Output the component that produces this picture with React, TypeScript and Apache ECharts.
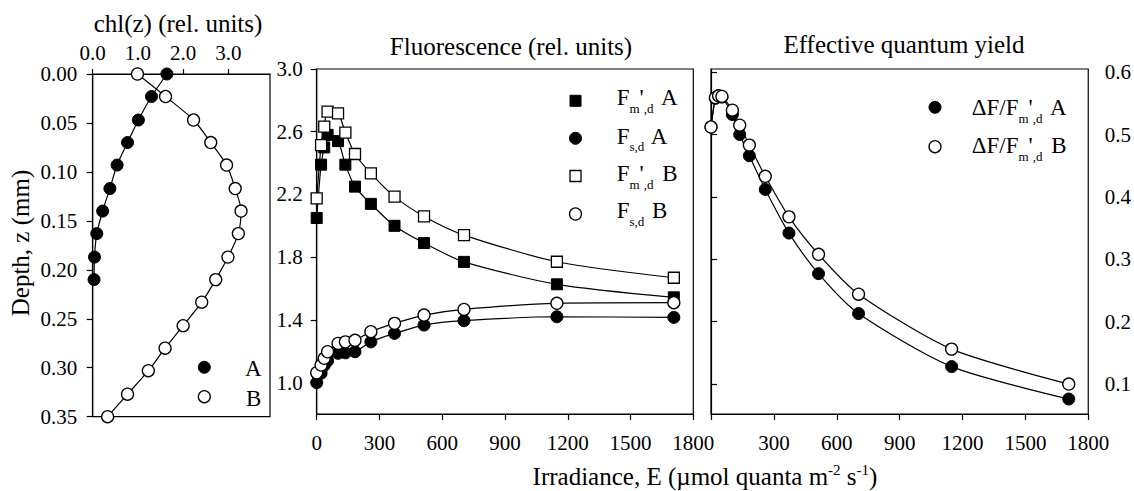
import React, { useEffect, useRef } from "react";
import * as echarts from "echarts";

// ---------- data ----------
const depth = [0, 0.023, 0.047, 0.07, 0.093, 0.117, 0.14, 0.163, 0.187, 0.21, 0.233, 0.257, 0.28, 0.303, 0.327, 0.35];
const chlA = [1.64, 1.3, 1.01, 0.77, 0.54, 0.38, 0.22, 0.09, 0.04, 0.03];
const chlB = [0.99, 1.61, 2.23, 2.61, 2.96, 3.15, 3.28, 3.22, 2.99, 2.72, 2.41, 2.0, 1.6, 1.23, 0.77, 0.33];

const irradiance = [0, 21, 36, 52, 102, 137, 183, 259, 372, 513, 704, 1148, 1707];
const fmA = [2.05, 2.39, 2.5, 2.58, 2.54, 2.39, 2.25, 2.14, 2.0, 1.89, 1.77, 1.627, 1.544];
const fsA = [1.0, 1.06, 1.11, 1.14, 1.187, 1.19, 1.197, 1.26, 1.314, 1.367, 1.395, 1.42, 1.416];
const fmB = [2.175, 2.515, 2.632, 2.728, 2.717, 2.594, 2.458, 2.335, 2.186, 2.06, 1.941, 1.771, 1.669];
const fsB = [1.063, 1.112, 1.155, 1.197, 1.25, 1.26, 1.27, 1.325, 1.378, 1.431, 1.467, 1.506, 1.51];
const yieldA = [0.512, 0.558, 0.562, 0.56, 0.532, 0.5, 0.466, 0.412, 0.342, 0.277, 0.213, 0.128, 0.076];
const yieldB = [0.512, 0.559, 0.562, 0.561, 0.539, 0.515, 0.483, 0.433, 0.368, 0.308, 0.244, 0.156, 0.1];

const chlTicks = [0, 1, 2, 3];
const fluorTicks = [1.0, 1.4, 1.8, 2.2, 2.6, 3.0];
const yieldTicks = [0.1, 0.2, 0.3, 0.4, 0.5, 0.6];
const eTicks = [0, 300, 600, 900, 1200, 1500, 1800];
const eTicksRight = [300, 600, 900, 1200, 1500, 1800];

const FONT = '"Liberation Serif", "Times New Roman", Times, serif';
const AXIS_FONT = "Liberation Serif";
const TICK_FS = 21;

export default function App() {
  const ref = useRef<HTMLDivElement>(null);

  useEffect(() => {
    const el = ref.current!;
    const chart = echarts.init(el, undefined, { renderer: "svg" });

    const canvas = document.createElement("canvas");
    const ctx = canvas.getContext("2d")!;
    const measure = (t: string, size: number) => {
      ctx.font = `${size}px ${FONT}`;
      return ctx.measureText(t).width;
    };
    const txt = (t: string, x: number, base: number, size: number, align = "left", extra: any = {}) => ({
      type: "text",
      x,
      y: base - 0.3375 * size,
      silent: true,
      style: {
        text: t,
        font: `${size}px ${FONT}`,
        fill: "#000",
        textAlign: align,
        textVerticalAlign: "middle",
      },
      ...extra,
    });
    type Part = [string, number, number, number?];
    const seq = (x0: number, base: number, parts: Part[]) => {
      let x = x0;
      const out: any[] = [];
      for (const [t, size, dy, dx = 0] of parts) {
        x += dx;
        out.push(txt(t, x, base + dy, size));
        x += measure(t, size);
      }
      return out;
    };
    const seqWidth = (parts: Part[]) =>
      parts.reduce((s, [t, size, , dx = 0]) => s + (dx || 0) + measure(t, size), 0);

    const blackCircle = (cx: number, cy: number) => ({
      type: "circle", silent: true, shape: { cx, cy, r: 6 }, style: { fill: "#000", stroke: "#000", lineWidth: 1 },
    });
    const whiteCircle = (cx: number, cy: number) => ({
      type: "circle", silent: true, shape: { cx, cy, r: 6 }, style: { fill: "#fff", stroke: "#000", lineWidth: 1.3 },
    });
    const blackSquare = (cx: number, cy: number) => ({
      type: "rect", silent: true, shape: { x: cx - 5.5, y: cy - 5.5, width: 11, height: 11 }, style: { fill: "#000", stroke: "#000", lineWidth: 1 },
    });
    const whiteSquare = (cx: number, cy: number) => ({
      type: "rect", silent: true, shape: { x: cx - 5.5, y: cy - 5.5, width: 11, height: 11 }, style: { fill: "#fff", stroke: "#000", lineWidth: 1.3 },
    });

    const fmParts = (label: string): Part[] => [
      ["F", 23, 0],
      ["m", 13, 7.5],
      ["'", 23, 0],
      [",d", 13, 7.5],
      [" " + label, 23, 0, 3],
    ];
    const fsParts = (label: string): Part[] => [
      ["F", 23, 0],
      ["s,d", 13, 7.5],
      [" " + label, 23, 0, 2],
    ];
    const dfParts = (label: string): Part[] => [
      ["ΔF/F", 23, 0],
      ["m", 13, 7.5],
      ["'", 23, 0],
      [",d", 13, 7.5],
      [" " + label, 23, 0, 3],
    ];

    const xTitleParts: Part[] = [
      ["Irradiance, E (µmol quanta m", 25, 0],
      ["-2", 15, -10],
      [" s", 25, 0],
      ["-1", 15, -10],
      [")", 25, 0],
    ];
    const xTitleW = seqWidth(xTitleParts);

    const graphic: any[] = [
      txt("chl(z) (rel. units)", 178, 31.7, 25, "center"),
      txt("Fluorescence (rel. units)", 511, 55, 25, "center"),
      txt("Effective quantum yield", 904, 53, 25, "center"),
      {
        type: "text",
        x: 20.6,
        y: 243,
        rotation: Math.PI / 2,
        silent: true,
        style: { text: "Depth, z (mm)", font: `25px ${FONT}`, fill: "#000", textAlign: "center", textVerticalAlign: "middle" },
      },
      ...seq(705 - xTitleW / 2, 485, xTitleParts),
      // left legend
      blackCircle(204.3, 367.3),
      txt("A", 245, 376.7, 23),
      whiteCircle(204.3, 396.7),
      txt("B", 246, 406, 23),
      // middle legend
      blackSquare(575.5, 100.8),
      ...seq(616.7, 105.7, fmParts("A")),
      blackCircle(575.5, 138.3),
      ...seq(616.7, 143.8, fsParts("A")),
      whiteSquare(575.5, 176),
      ...seq(616.7, 181.3, fmParts("B")),
      whiteCircle(575.5, 214),
      ...seq(616.7, 218.5, fsParts("B")),
      // right legend
      blackCircle(935, 107.3),
      ...seq(971.7, 115, dfParts("A")),
      whiteCircle(935, 146.7),
      ...seq(971.7, 153.3, dfParts("B")),
    ];

    const axisLabelBase = { color: "#000", fontFamily: AXIS_FONT, fontSize: TICK_FS };
    const axisLineBase = { show: true, lineStyle: { color: "#000", width: 1.2 } };
    const tickBase = { show: true, inside: false, length: 6, lineStyle: { color: "#000", width: 1.2 } };
    const gridBase = { show: true, borderColor: "#000", borderWidth: 1.2, backgroundColor: "transparent", containLabel: false };

    const lineStyle = { color: "#000", width: 1.2 };
    const filledCircle = { symbol: "circle", symbolSize: 12, itemStyle: { color: "#000", borderColor: "#000", borderWidth: 1 } };
    const openCircle = { symbol: "circle", symbolSize: 12, itemStyle: { color: "#fff", borderColor: "#000", borderWidth: 1.3 } };
    const filledSquare = { symbol: "rect", symbolSize: 11, itemStyle: { color: "#000", borderColor: "#000", borderWidth: 1 } };
    const openSquare = { symbol: "rect", symbolSize: 11, itemStyle: { color: "#fff", borderColor: "#000", borderWidth: 1.3 } };

    const zip = (xs: number[], ys: number[]) => xs.map((x, i) => [x, ys[i]]);
    const mk = (name: string, xi: number, data: number[][], sym: any, smooth = 0.25) => ({
      name,
      type: "line",
      xAxisIndex: xi,
      yAxisIndex: xi,
      data,
      smooth,
      silent: true,
      showSymbol: true,
      lineStyle,
      ...sym,
      emphasis: { disabled: true },
    });
    const plain = (v: number) => String(v);

    const option: any = {
      animation: false,
      backgroundColor: "#fff",
      textStyle: { fontFamily: AXIS_FONT },
      grid: [
        { ...gridBase, left: 92.7, top: 74, width: 177.3, height: 342.7 },
        { ...gridBase, left: 316.7, top: 69, width: 376.6, height: 345 },
        { ...gridBase, left: 711, top: 69, width: 377.3, height: 345 },
      ],
      xAxis: [
        {
          gridIndex: 0, type: "value", position: "top", min: 0, max: 3.92, interval: 1,
          axisLine: axisLineBase, splitLine: { show: false },
          axisTick: { ...tickBase, length: 5, customValues: chlTicks },
          axisLabel: { ...axisLabelBase, margin: 11, customValues: chlTicks, formatter: (v: number) => v.toFixed(1) },
        },
        {
          gridIndex: 1, type: "value", position: "bottom", min: 0, max: 1800, interval: 300,
          axisLine: axisLineBase, splitLine: { show: false },
          axisTick: { ...tickBase, customValues: eTicks },
          axisLabel: { ...axisLabelBase, margin: 18, customValues: eTicks, formatter: plain },
        },
        {
          gridIndex: 2, type: "value", position: "bottom", min: 0, max: 1800, interval: 300,
          axisLine: axisLineBase, splitLine: { show: false },
          axisTick: { ...tickBase, customValues: eTicks },
          axisLabel: { ...axisLabelBase, margin: 18, customValues: eTicksRight, formatter: plain },
        },
      ],
      yAxis: [
        {
          gridIndex: 0, type: "value", inverse: true, min: 0, max: 0.35, interval: 0.05,
          axisLine: axisLineBase, splitLine: { show: false },
          axisTick: tickBase,
          axisLabel: { ...axisLabelBase, margin: 15.5, formatter: (v: number) => v.toFixed(2) },
        },
        {
          gridIndex: 1, type: "value", min: 0.8, max: 3.0, interval: 0.2,
          axisLine: axisLineBase, splitLine: { show: false },
          axisTick: { ...tickBase, customValues: fluorTicks },
          axisLabel: { ...axisLabelBase, margin: 14, customValues: fluorTicks, formatter: (v: number) => v.toFixed(1) },
        },
        {
          gridIndex: 2, type: "value", position: "right", min: 0.052, max: 0.605, interval: 0.1,
          axisLine: axisLineBase, splitLine: { show: false },
          axisTick: { ...tickBase, customValues: yieldTicks },
          axisLabel: { ...axisLabelBase, margin: 16.5, customValues: yieldTicks, formatter: (v: number) => v.toFixed(1) },
        },
      ],
      series: [
        mk("chl A", 0, zip(chlA, depth.slice(0, chlA.length)), filledCircle, 0.3),
        mk("chl B", 0, zip(chlB, depth), openCircle, 0.3),
        mk("Fm'd A", 1, zip(irradiance, fmA), filledSquare),
        mk("Fsd A", 1, zip(irradiance, fsA), filledCircle),
        mk("Fm'd B", 1, zip(irradiance, fmB), openSquare),
        mk("Fsd B", 1, zip(irradiance, fsB), openCircle),
        mk("dF/Fm'd A", 2, zip(irradiance, yieldA), filledCircle),
        mk("dF/Fm'd B", 2, zip(irradiance, yieldB), openCircle),
      ],
      graphic,
    };

    chart.setOption(option);
    return () => chart.dispose();
  }, []);

  return (
    <div
      ref={ref}
      style={{ position: "fixed", left: 0, top: 0, width: 1134, height: 491, background: "#fff" }}
    />
  );
}
